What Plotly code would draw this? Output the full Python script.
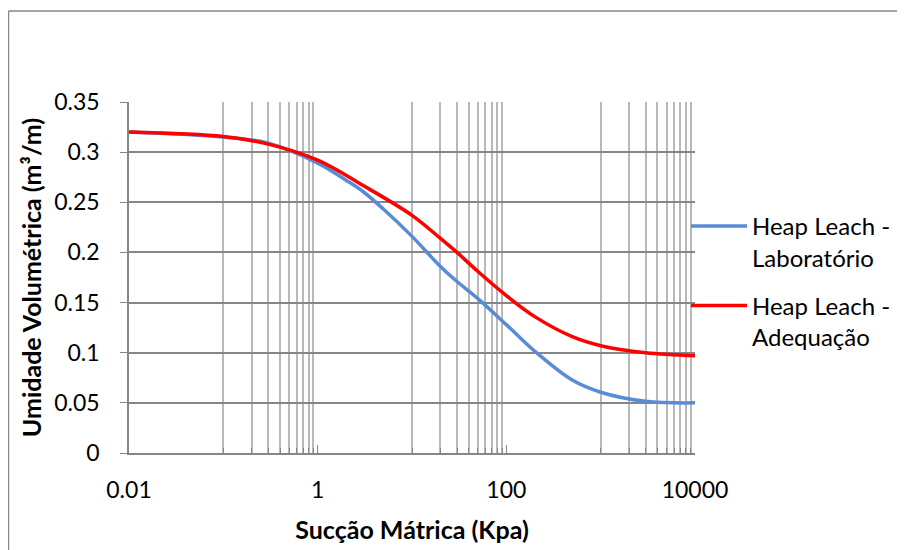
import plotly.graph_objects as go

# ---- data ----
suction_lab = [0.01, 0.1, 0.3, 1, 2, 3, 5, 10, 20, 30, 50, 100, 200, 500, 1000, 3000, 10000]
theta_lab = [0.320, 0.315, 0.309, 0.289, 0.272, 0.261, 0.243, 0.216, 0.186, 0.171, 0.154,
             0.128, 0.1015, 0.0727, 0.0606, 0.0515, 0.050]

suction_fit = [0.01, 0.1, 0.3, 1, 3, 10, 20, 30, 50, 100, 200, 500, 1000, 3000, 10000]
theta_fit = [0.320, 0.3155, 0.308, 0.292, 0.267, 0.237, 0.214, 0.200, 0.181, 0.157,
             0.136, 0.116, 0.107, 0.100, 0.097]

series_names = ["Heap Leach -<br>Laboratório", "Heap Leach -<br>Adequação"]
x_major = [0.01, 1, 100, 10000]
x_major_text = ["0.01", "1", "100", "10000"]
x_minor = ([k * 0.1 for k in range(1, 10)] + [k * 10 for k in range(1, 10)]
           + [k * 1000 for k in range(1, 10)])
x_title = "Sucção Mátrica (Kpa)"
y_title = "Umidade Volumétrica (m³/m)"

FONT = "Lato, Calibri, Carlito, sans-serif"
AXIS_GREY = "#868686"
MINOR_GREY = "#B9B9B9"

fig = go.Figure()
fig.add_trace(go.Scatter(x=suction_lab, y=theta_lab, mode="lines", name=series_names[0],
                         legendgroup="lab",
                         line=dict(color="#588CD6", width=3.5, shape="spline", smoothing=1.0)))
fig.add_trace(go.Scatter(x=suction_fit, y=theta_fit, mode="lines", name=series_names[1],
                         legendgroup="fit",
                         line=dict(color="#FF0000", width=3.5, shape="spline", smoothing=1.0)))

# plot-area edges in screenshot pixels (page has an 8px body offset)
OFF = 8
L, R, T, B = 129, 695, 102, 453
W, H = 905, 550

def px_x(px):
    return (px - L) / (R - L)

def px_y(py):
    return (B - py) / (B - T)

fig.update_layout(
    width=W, height=H,
    margin=dict(l=L - OFF, r=W + OFF - R, t=T - OFF, b=H + OFF - B, pad=0),
    paper_bgcolor="white", plot_bgcolor="white",
    font=dict(family=FONT, size=23, color="#000000"),
    showlegend=True,
    legend=dict(x=px_x(686), y=px_y(204), xanchor="left", yanchor="top",
                valign="top", font=dict(size=24), bgcolor="rgba(0,0,0,0)",
                itemwidth=56, tracegroupgap=14),
    xaxis=dict(
        type="log", range=[-2, 4],
        tickvals=x_major, ticktext=x_major_text,
        showgrid=False, zeroline=False,
        showline=True, linecolor=AXIS_GREY, linewidth=1.5,
        ticks="inside", ticklen=8, tickcolor=AXIS_GREY, tickwidth=1,
        ticklabelstandoff=16,
        minor=dict(tickvals=x_minor, showgrid=True, gridcolor=MINOR_GREY, gridwidth=1.5,
                   ticks="inside", ticklen=5, tickcolor=AXIS_GREY),
        title=dict(text="<b>" + x_title + "</b>", standoff=19, font=dict(size=25)),
        automargin=False,
    ),
    yaxis=dict(
        range=[0, 0.35], dtick=0.05, tick0=0,
        showgrid=True, gridcolor=AXIS_GREY, gridwidth=1.5, zeroline=False,
        showline=True, linecolor=AXIS_GREY, linewidth=1.5,
        ticks="outside", ticklen=7, tickcolor=AXIS_GREY,
        ticklabelstandoff=16,
        title=dict(text="<b>" + y_title + "</b>", standoff=5, font=dict(size=25)),
        automargin=False,
    ),
    shapes=[
        dict(type="line", xref="paper", yref="paper",
             x0=px_x(8.5), x1=px_x(8.5), y0=px_y(570), y1=px_y(11),
             line=dict(color=AXIS_GREY, width=1.5)),
        dict(type="line", xref="paper", yref="paper",
             x0=px_x(8.5), x1=px_x(920), y0=px_y(11), y1=px_y(11),
             line=dict(color=AXIS_GREY, width=1.5)),
    ],
)

fig.write_html("out.html")
